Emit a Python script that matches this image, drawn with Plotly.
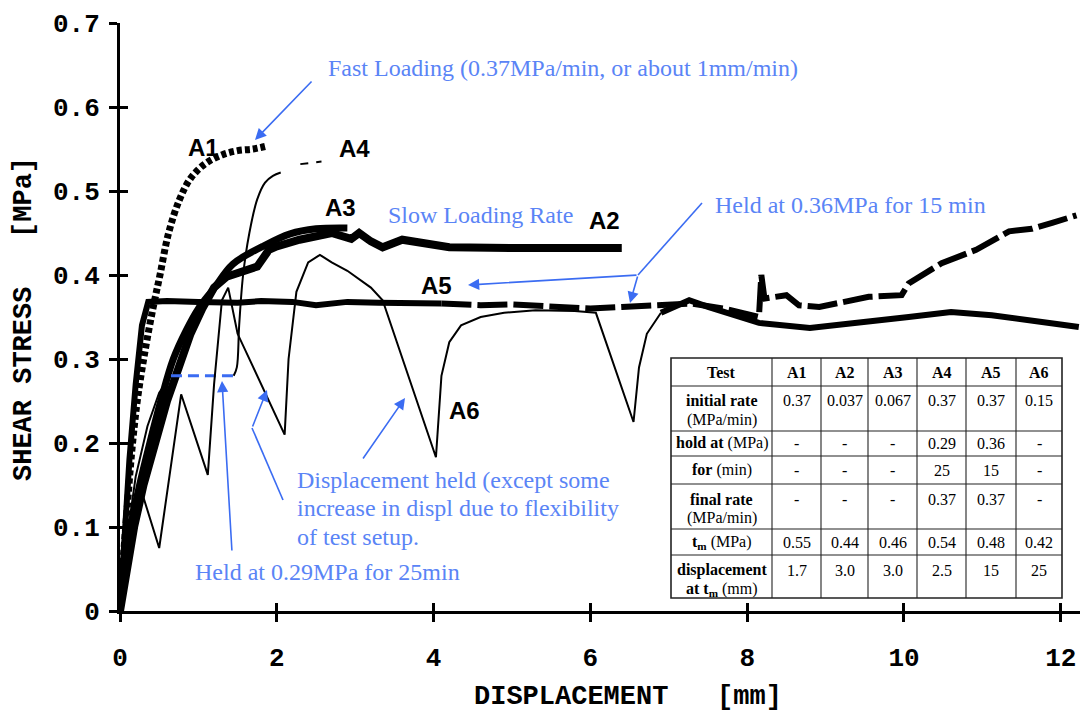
import plotly.graph_objects as go

# ---------------- data ----------------
a1_x = [0, 0.04, 0.09, 0.15, 0.22, 0.32, 0.42, 0.51, 0.62, 0.76, 0.9, 1.08, 1.3, 1.5, 1.7, 1.85]
a1_y = [0, 0.06, 0.12, 0.19, 0.25, 0.31, 0.36, 0.40, 0.45, 0.49, 0.515, 0.532, 0.543, 0.548, 0.55, 0.553]

a2_x = [0, 0.08, 0.18, 0.3, 0.45, 0.6, 0.75, 0.9, 1.05, 1.2, 1.36, 1.62, 1.75, 1.9, 2.0, 2.29, 2.7,
        2.95, 3.05, 3.2, 3.35, 3.6, 3.85, 4.2, 5.0, 6.0, 6.4]
a2_y = [0, 0.05, 0.10, 0.15, 0.20, 0.25, 0.29, 0.33, 0.36, 0.385, 0.398, 0.405, 0.41, 0.43, 0.434, 0.442, 0.45,
        0.443, 0.45, 0.44, 0.433, 0.442, 0.438, 0.433, 0.432, 0.432, 0.432]

a3_x = [0, 0.06, 0.14, 0.25, 0.38, 0.52, 0.68, 0.85, 1.0, 1.19, 1.44, 1.82, 2.17, 2.5, 2.9]
a3_y = [0, 0.05, 0.10, 0.15, 0.20, 0.25, 0.30, 0.335, 0.36, 0.383, 0.413, 0.434, 0.449, 0.455, 0.456]

a4_load_x = [0, 0.08, 0.2, 0.35, 0.5, 0.65]
a4_load_y = [0, 0.08, 0.16, 0.22, 0.26, 0.28]
a4_hold_x = [0.65, 1.45]
a4_hold_y = [0.28, 0.28]
a4_reload_x = [1.45, 1.49, 1.52, 1.57, 1.65, 1.75, 1.85, 1.95, 2.05]
a4_reload_y = [0.28, 0.29, 0.34, 0.40, 0.45, 0.49, 0.51, 0.518, 0.522]
a4_end_x = [2.3, 2.57]
a4_end_y = [0.532, 0.535]

a5_hold_x = [0, 0.05, 0.12, 0.2, 0.28, 0.36, 0.6, 1.0, 1.5, 1.8, 2.2, 2.5, 2.9, 3.3, 3.8, 4.1]
a5_hold_y = [0, 0.08, 0.18, 0.27, 0.34, 0.368, 0.369, 0.368, 0.367, 0.369, 0.368, 0.364, 0.368, 0.367, 0.366, 0.366]
a5_late_x = [4.1, 4.6, 5.0, 5.5, 6.0, 6.4, 6.9, 7.3, 7.7, 8.05, 8.15, 8.18, 8.22, 8.5, 8.66, 8.92,
             9.3, 9.55, 9.97, 10.06, 10.48, 10.92, 11.34, 11.63, 11.89, 12.2]
a5_late_y = [0.366, 0.364, 0.365, 0.363, 0.36, 0.362, 0.365, 0.366, 0.36, 0.352, 0.35, 0.40, 0.372, 0.376, 0.364, 0.362,
             0.37, 0.374, 0.376, 0.39, 0.414, 0.43, 0.452, 0.455, 0.462, 0.471]

a6_cyc_x = [0, 0.1, 0.2, 0.25, 0.5, 0.78, 1.12, 1.2, 1.3, 1.38, 1.5, 2.1, 2.15, 2.25, 2.4, 2.55, 2.7, 2.9,
            3.2, 3.35, 4.03, 4.1, 4.2, 4.35, 4.6, 4.9, 5.3, 5.8, 6.07, 6.55, 6.62, 6.72, 6.9]
a6_cyc_y = [0, 0.09, 0.14, 0.15, 0.075, 0.258, 0.162, 0.27, 0.37, 0.385, 0.33, 0.21, 0.30, 0.38, 0.415, 0.424, 0.415, 0.405,
            0.385, 0.37, 0.183, 0.28, 0.32, 0.34, 0.35, 0.355, 0.358, 0.357, 0.355, 0.225, 0.29, 0.33, 0.355]
a6_late_x = [6.9, 7.26, 7.5, 7.73, 8.15, 8.8, 9.43, 10.06, 10.6, 11.12, 11.76, 12.23]
a6_late_y = [0.355, 0.37, 0.362, 0.355, 0.343, 0.337, 0.343, 0.35, 0.356, 0.352, 0.344, 0.338]

x_ticks = [0, 2, 4, 6, 8, 10, 12]
x_tick_labels = ["0", "2", "4", "6", "8", "10", "12"]
y_ticks = [0, 0.1, 0.2, 0.3, 0.4, 0.5, 0.6, 0.7]
y_tick_labels = ["0", "0.1", "0.2", "0.3", "0.4", "0.5", "0.6", "0.7"]

table_header = ["Test", "A1", "A2", "A3", "A4", "A5", "A6"]
table_rows = ["<b>initial rate</b><br>(MPa/min)", "<b>hold at</b> (MPa)", "<b>for</b> (min)",
              "<b>final rate</b><br>(MPa/min)", "<b>t<sub>m</sub></b> (MPa)",
              "<b>displacement</b><br><b>at t<sub>m</sub></b> (mm)"]
col_a1 = ["0.37", "-", "-", "-", "0.55", "1.7"]
col_a2 = ["0.037", "-", "-", "-", "0.44", "3.0"]
col_a3 = ["0.067", "-", "-", "-", "0.46", "3.0"]
col_a4 = ["0.37", "0.29", "25", "0.37", "0.54", "2.5"]
col_a5 = ["0.37", "0.36", "15", "0.37", "0.48", "15"]
col_a6 = ["0.15", "-", "-", "-", "0.42", "25"]

# ---------------- layout geometry (pixels of the 1080x716 page) ----------------
L, R, T, B = 120, 0, 23, 105
W, H = 1080, 716
PW, PH = W - L - R, H - T - B
X_MAX, Y_MAX = 12.245, 0.7


def px2x(px):
    return (px - L) / PW * X_MAX


def py2y(py):
    return (H - B - py) / PH * Y_MAX


def px2p(px):
    return (px - L) / PW


def py2p(py):
    return (H - B - py) / PH


BLUE_T = "#5a84f6"
BLUE_A = "#3b6cf2"
fig = go.Figure()


def add_line(x, y, width, dash="solid", color="black", shape="linear"):
    fig.add_trace(go.Scatter(x=x, y=y, mode="lines", showlegend=False, hoverinfo="skip",
                             line=dict(color=color, width=width, dash=dash, shape=shape)))


add_line(a2_x, a2_y, 8)
add_line(a3_x, a3_y, 7, shape="spline")
add_line(a1_x, a1_y, 7, dash="5px,3px", shape="spline")
add_line(a4_load_x, a4_load_y, 2)
add_line(a4_hold_x, a4_hold_y, 3, dash="11px,6px", color=BLUE_A)
add_line(a4_reload_x, a4_reload_y, 2, shape="spline")
add_line(a4_end_x, a4_end_y, 2, dash="8px,8px")
add_line(a5_hold_x, a5_hold_y, 6)
add_line(a5_late_x, a5_late_y, 6, dash="30px,6px")
add_line(a6_cyc_x, a6_cyc_y, 2)
add_line(a6_late_x, a6_late_y, 6)

# empty trace so the overlay axes (inner halves of the crossing ticks) are drawn
fig.add_trace(go.Scatter(x=[], y=[], xaxis="x2", yaxis="y2", showlegend=False, hoverinfo="skip"))

tickfont = dict(family="Liberation Mono", size=26, color="black", weight="bold")
fig.update_layout(
    width=W, height=H, margin=dict(l=L, r=R, t=T, b=B),
    paper_bgcolor="white", plot_bgcolor="white",
    xaxis=dict(range=[0, X_MAX], tickvals=x_ticks, ticktext=x_tick_labels, showgrid=False, zeroline=False,
               showline=True, linecolor="black", linewidth=3, ticks="outside", ticklen=8, tickwidth=2.5,
               tickcolor="black", tickfont=tickfont, ticklabelstandoff=13),
    yaxis=dict(range=[0, Y_MAX], tickvals=y_ticks, ticktext=y_tick_labels, showgrid=False, zeroline=False,
               showline=True, linecolor="black", linewidth=3, ticks="outside", ticklen=8, tickwidth=2.5,
               tickcolor="black", tickfont=tickfont, ticklabelstandoff=4),
    xaxis2=dict(overlaying="x", matches="x", anchor="y2", range=[0, X_MAX], tickvals=x_ticks, showticklabels=False,
                ticks="inside", ticklen=8, tickwidth=2.5, tickcolor="black", showgrid=False, zeroline=False,
                showline=False, side="bottom"),
    yaxis2=dict(overlaying="y", matches="y", anchor="x2", range=[0, Y_MAX], tickvals=y_ticks, showticklabels=False,
                ticks="inside", ticklen=8, tickwidth=2.5, tickcolor="black", showgrid=False, zeroline=False,
                showline=False, side="left"),
)

annos = []
shapes = []
# axis titles
annos.append(dict(xref="paper", yref="paper", x=px2p(628), y=py2p(697), xanchor="center", yanchor="middle",
                  text="DISPLACEMENT   [mm]", showarrow=False,
                  font=dict(family="Liberation Mono", size=27, color="black", weight="bold")))
annos.append(dict(xref="paper", yref="paper", x=px2p(24), y=py2p(319), xanchor="center", yanchor="middle",
                  text="SHEAR STRESS   [MPa]", showarrow=False, textangle=-90,
                  font=dict(family="Liberation Mono", size=27, color="black", weight="bold")))

# curve labels
lab_font = dict(family="Liberation Sans", size=24, color="black", weight="bold")
for txt, cx, cy in [("A1", 203, 147), ("A4", 354, 148), ("A3", 340, 207), ("A2", 604, 220),
                    ("A5", 436, 285), ("A6", 464, 410)]:
    annos.append(dict(x=px2x(cx), y=py2y(cy), text=txt, showarrow=False, font=lab_font))

# blue notes
bfont = dict(family="Liberation Serif", size=24, color=BLUE_T)
for txt, lx, cy in [("Fast Loading (0.37MPa/min, or about 1mm/min)", 326, 68),
                    ("Slow Loading Rate", 386, 215),
                    ("Held at 0.36MPa for 15 min", 713, 205),
                    ("Displacement held (except some", 295, 480),
                    ("increase in displ due to flexibility", 295, 508),
                    ("of test setup.", 295, 537),
                    ("Held at 0.29MPa for 25min", 193, 572)]:
    annos.append(dict(x=px2x(lx), y=py2y(cy), text=txt, showarrow=False, xanchor="left", yanchor="middle",
                      font=bfont))


def arrow(tx, ty, hx, hy):
    annos.append(dict(x=px2x(hx), y=py2y(hy), ax=px2x(tx), ay=py2y(ty), xref="x", yref="y", axref="x", ayref="y",
                      text="", showarrow=True, arrowhead=2, arrowsize=1.4, arrowwidth=1.6, arrowcolor=BLUE_A))


def seg(x0, y0, x1, y1):
    shapes.append(dict(type="line", xref="x", yref="y", x0=px2x(x0), y0=py2y(y0), x1=px2x(x1), y1=py2y(y1),
                       line=dict(color=BLUE_A, width=1.6)))


arrow(313, 80, 255, 140)
seg(702, 203, 638, 275)
arrow(638, 275, 468, 285)
arrow(638, 275, 630, 303)
seg(283, 500, 252, 428)
arrow(252, 428, 267, 390)
arrow(362, 460, 405, 398)
arrow(232, 552, 222, 381)

# ---------------- table (text + rules) ----------------
col_px = [671, 772, 821, 868, 917, 966, 1016, 1062]
row_px = [358, 386, 431, 456, 484, 529, 555, 598]
shapes.append(dict(type="rect", xref="paper", yref="paper", x0=px2p(col_px[0]), x1=px2p(col_px[-1]),
                   y0=py2p(row_px[-1]), y1=py2p(row_px[0]), fillcolor="white",
                   line=dict(color="#222", width=1.6), layer="above"))
for cx in col_px[1:-1]:
    shapes.append(dict(type="line", xref="paper", yref="paper", x0=px2p(cx), x1=px2p(cx),
                       y0=py2p(row_px[-1]), y1=py2p(row_px[0]), line=dict(color="#222", width=1.1)))
for ry in row_px[1:-1]:
    shapes.append(dict(type="line", xref="paper", yref="paper", x0=px2p(col_px[0]), x1=px2p(col_px[-1]),
                       y0=py2p(ry), y1=py2p(ry), line=dict(color="#222", width=1.1)))

tfont = dict(family="Liberation Serif", size=16, color="black")
LINE_H = 19
for j, h in enumerate(table_header):
    cx = (col_px[j] + col_px[j + 1]) / 2
    annos.append(dict(xref="paper", yref="paper", x=px2p(cx), y=py2p((row_px[0] + row_px[1]) / 2),
                      text="<b>%s</b>" % h, showarrow=False, xanchor="center", yanchor="middle", font=tfont))

columns = [table_rows, col_a1, col_a2, col_a3, col_a4, col_a5, col_a6]
for i, label in enumerate(table_rows):
    top, bot = row_px[i + 1], row_px[i + 2]
    n_lines = len(label.split("<br>"))
    first_y = top + 15 if n_lines > 1 else (top + bot) / 2
    for j, col in enumerate(columns):
        cx = (col_px[j] + col_px[j + 1]) / 2
        for k, part in enumerate(col[i].split("<br>")):
            annos.append(dict(xref="paper", yref="paper", x=px2p(cx), y=py2p(first_y + k * LINE_H),
                              text=part, showarrow=False, xanchor="center", yanchor="middle", font=tfont))

fig.update_layout(annotations=annos, shapes=shapes)
fig.write_html("out.html")
